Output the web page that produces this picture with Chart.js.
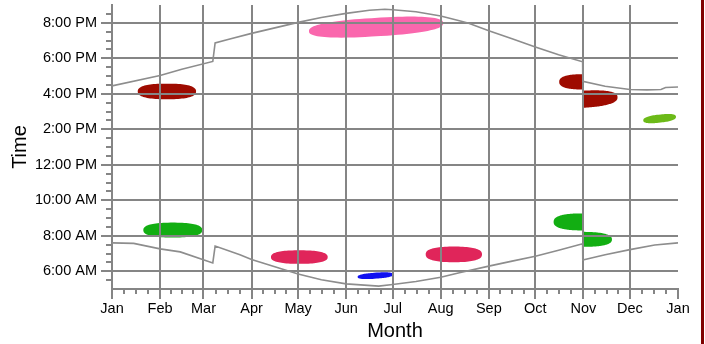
<!DOCTYPE html>
<html>
<head>
<meta charset="utf-8">
<script src="https://cdn.jsdelivr.net/npm/chart.js@4.4.1/dist/chart.umd.min.js"></script>
<style>
  html, body { margin: 0; padding: 0; background: #fff; }
  #wrap { position: relative; width: 705px; height: 344px; overflow: hidden; }
  #frame { position: absolute; left: 701px; top: 0; width: 3px; height: 344px; background: #800000; }
</style>
</head>
<body>
<div id="wrap">
  <canvas id="chart" width="705" height="344"></canvas>
  <div id="frame"></div>
</div>
<script>
// Month axis: day of year at the start of each month
const monthLabels = ['Jan', 'Feb', 'Mar', 'Apr', 'May', 'Jun', 'Jul', 'Aug', 'Sep', 'Oct', 'Nov', 'Dec', 'Jan'];
const monthStartDays = [0, 31, 59, 90, 120, 151, 181, 212, 243, 273, 304, 334, 365];

// Time axis (hours of the day) with labelled ticks
const timeTickHours = [6, 8, 10, 12, 14, 16, 18, 20];

// Sunset time (hours) through the year, including the clock changes
const sunsetDays  = [0, 31, 45, 65, 66.5, 76, 90, 105, 120, 135, 151, 166, 176, 181, 196, 212, 224, 230, 243, 258, 273, 288, 303.5, 303.6, 318, 334, 345, 354, 357, 365];
const sunsetHours = [16.44, 17.03, 17.38, 17.82, 18.86, 19.08, 19.40, 19.71, 20.02, 20.30, 20.53, 20.70, 20.76, 20.73, 20.62, 20.38, 20.11, 19.97, 19.55, 19.10, 18.64, 18.20, 17.80, 16.70, 16.42, 16.24, 16.22, 16.24, 16.35, 16.38];

// Sunrise time (hours) through the year, including the clock changes
const sunriseDays  = [0, 14, 31, 44, 65, 66.5, 82.5, 90, 105, 120, 135, 151, 172, 181, 196, 212, 224, 243, 258, 273, 288, 303.5, 303.6, 318, 334, 350, 365];
const sunriseHours = [7.60, 7.57, 7.26, 7.09, 6.47, 7.42, 6.93, 6.66, 6.25, 5.85, 5.52, 5.29, 5.16, 5.25, 5.42, 5.66, 5.92, 6.29, 6.57, 6.85, 7.18, 7.55, 6.63, 6.93, 7.22, 7.48, 7.60];

// Clusters of observations: day range, centre time at each end, half spread (hours)
const clusterStart     = [16.6, 20.2, 127, 288.4, 303.5, 342.6, 102.5, 202.3, 158.4, 284.8, 303.5];
const clusterEnd       = [54.2, 58.2, 213.6, 303.5, 326, 363.7, 139.1, 238.6, 181.4, 303.5, 322.4];
const clusterTimeStart = [16.13, 8.32, 19.53, 16.67, 15.69, 14.50, 6.80, 6.95, 5.68, 8.78, 7.80];
const clusterTimeEnd   = [16.13, 8.32, 19.98, 16.67, 15.80, 14.70, 6.80, 6.95, 5.82, 8.78, 7.79];
const clusterSpread    = [0.44, 0.42, 0.52, 0.43, 0.48, 0.23, 0.38, 0.44, 0.17, 0.48, 0.42];

// Fill colour of each cluster and which end is cut straight at the clock change
const clusterColors = ['#9e0b00', '#12ae12', '#fa67ad', '#9e0b00', '#9e0b00', '#6cba18', '#e0255a', '#e0255a', '#0f10f0', '#12ae12', '#12ae12'];
const clusterFlatSide = ['', '', '', 'right', 'left', '', '', '', '', 'right', 'left'];

const GRID = '#858585';
const CURVE = '#8d8d8d';

function formatHour(h) {
  const hr = Math.round(h) % 24;
  const suffix = hr >= 12 ? 'PM' : 'AM';
  let h12 = hr % 12;
  if (h12 === 0) h12 = 12;
  return h12 + ':00 ' + suffix;
}

function zip(xs, ys) { return xs.map((v, i) => ({ x: v, y: ys[i] })); }

// Clusters are painted before the grid so grid lines run over them
const clusterPlugin = {
  id: 'clusters',
  beforeDraw(chart) {
    const { ctx, scales: { x, y } } = chart;
    const P = 0.8, N = 90;
    ctx.save();
    clusterStart.forEach((d0, i) => {
      const px0 = x.getPixelForValue(d0), px1 = x.getPixelForValue(clusterEnd[i]);
      const py0 = y.getPixelForValue(clusterTimeStart[i]);
      const py1 = y.getPixelForValue(clusterTimeEnd[i]);
      const half = Math.abs(y.getPixelForValue(clusterTimeStart[i] + clusterSpread[i]) - py0);
      const flat = clusterFlatSide[i];
      let cx, a, t0, t1;
      if (flat === 'right') { cx = px1; a = px1 - px0; t0 = Math.PI / 2; t1 = 3 * Math.PI / 2; }
      else if (flat === 'left') { cx = px0; a = px1 - px0; t0 = -Math.PI / 2; t1 = Math.PI / 2; }
      else { cx = (px0 + px1) / 2; a = (px1 - px0) / 2; t0 = 0; t1 = 2 * Math.PI; }
      ctx.beginPath();
      for (let k = 0; k <= N; k++) {
        const t = t0 + (t1 - t0) * k / N;
        const c = Math.cos(t), s = Math.sin(t);
        const px = cx + a * Math.sign(c) * Math.pow(Math.abs(c), P);
        const f = (px - px0) / (px1 - px0);
        const pyc = py0 + (py1 - py0) * f;
        const py = pyc - half * Math.sign(s) * Math.pow(Math.abs(s), P);
        if (k === 0) ctx.moveTo(px, py); else ctx.lineTo(px, py);
      }
      ctx.closePath();
      ctx.fillStyle = clusterColors[i];
      ctx.fill();
    });
    ctx.restore();
  }
};

// Major and minor tick marks on both axes
const tickPlugin = {
  id: 'tickMarks',
  afterDraw(chart) {
    const { ctx, scales: { x, y }, chartArea } = chart;
    ctx.save();
    ctx.strokeStyle = GRID;
    ctx.lineWidth = 2;
    ctx.beginPath();
    for (let v = y.min + 0.5; v < y.max; v += 0.5) {
      const py = Math.round(y.getPixelForValue(v));
      const major = timeTickHours.includes(v);
      ctx.moveTo(chartArea.left - (major ? 11 : 6), py);
      ctx.lineTo(chartArea.left, py);
    }
    const b = chartArea.bottom;
    monthStartDays.forEach((d, i) => {
      const px = Math.round(x.getPixelForValue(d));
      ctx.moveTo(px, b);
      ctx.lineTo(px, b + 10);
      if (i < monthStartDays.length - 1) {
        const next = monthStartDays[i + 1];
        for (let q = 1; q < 4; q++) {
          const qx = Math.round(x.getPixelForValue(d + (next - d) * q / 4));
          ctx.moveTo(qx, b);
          ctx.lineTo(qx, b + 5);
        }
      }
    });
    ctx.stroke();
    ctx.restore();
  }
};

Chart.defaults.font.family = '"Liberation Sans", Arial, sans-serif';
Chart.defaults.color = '#000';

new Chart(document.getElementById('chart'), {
  type: 'scatter',
  data: {
    datasets: [
      { label: 'Sunset', data: zip(sunsetDays, sunsetHours), showLine: true, borderColor: CURVE, borderWidth: 1.6, pointRadius: 0, tension: 0 },
      { label: 'Sunrise', data: zip(sunriseDays, sunriseHours), showLine: true, borderColor: CURVE, borderWidth: 1.6, pointRadius: 0, tension: 0 }
    ]
  },
  options: {
    responsive: false,
    animation: false,
    events: [],
    layout: { padding: { top: 5, right: 27, left: 0, bottom: 0 } },
    plugins: { legend: { display: false }, tooltip: { enabled: false } },
    scales: {
      x: {
        type: 'linear',
        min: 0,
        max: 365,
        afterBuildTicks(scale) { scale.ticks = monthStartDays.map(v => ({ value: v })); },
        afterFit(scale) { scale.height = 55; scale.paddingLeft = 0; scale.paddingRight = 0; },
        ticks: {
          autoSkip: false,
          maxRotation: 0,
          padding: 11,
          font: { size: 14.5 },
          color: '#000',
          callback: (v, i) => monthLabels[i]
        },
        grid: {
          drawTicks: false,
          lineWidth: 2,
          color: ctx => (ctx.tick && ctx.tick.value > 0 && ctx.tick.value < 365) ? GRID : 'rgba(0,0,0,0)'
        },
        border: { display: true, color: GRID, width: 2 },
        title: { display: true, text: 'Month', font: { size: 20 }, color: '#000', padding: { top: 0, bottom: 1 } }
      },
      y: {
        type: 'linear',
        min: 5,
        max: 21,
        afterBuildTicks(scale) { scale.ticks = timeTickHours.map(v => ({ value: v })); },
        afterFit(scale) { scale.width = 112; scale.paddingTop = 0; scale.paddingBottom = 0; },
        ticks: {
          autoSkip: false,
          padding: 15,
          font: { size: 14.5 },
          color: '#000',
          callback: v => formatHour(v)
        },
        grid: { drawTicks: false, lineWidth: 2, color: GRID },
        border: { display: true, color: GRID, width: 2 },
        title: { display: true, text: 'Time', font: { size: 20 }, color: '#000', padding: { top: 8, bottom: 0 } }
      }
    }
  },
  plugins: [clusterPlugin, tickPlugin]
});
</script>
</body>
</html>
